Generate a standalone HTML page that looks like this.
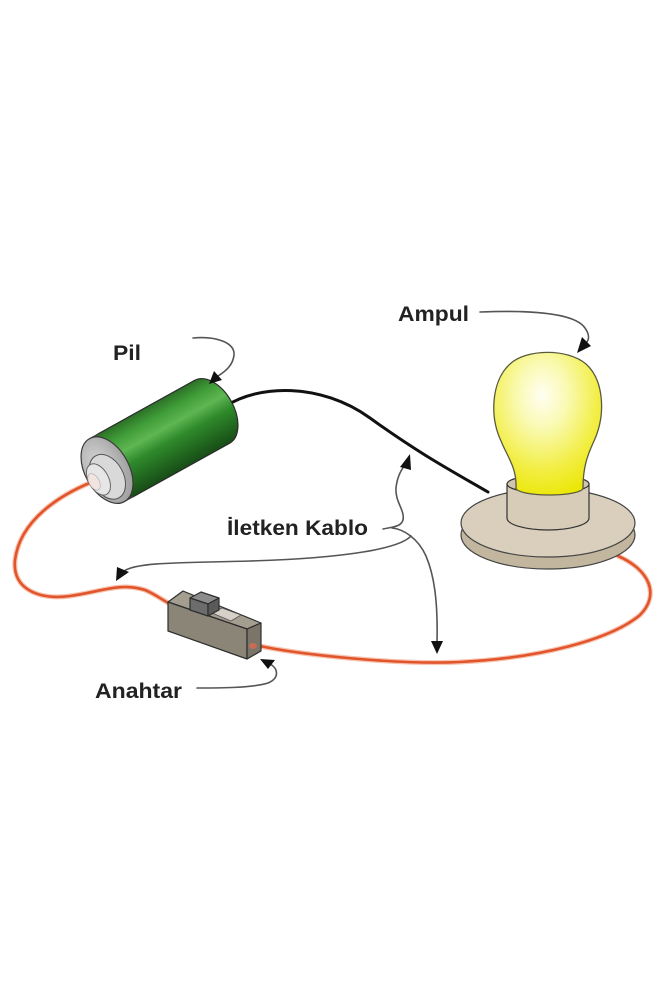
<!DOCTYPE html>
<html><head><meta charset="utf-8">
<style>
html,body{margin:0;padding:0;background:#fff;}
svg{display:block;}
text{font-family:"Liberation Sans",Arial,sans-serif;font-weight:bold;fill:#222;font-size:21px;}
</style></head>
<body>
<svg width="666" height="999" viewBox="0 0 666 999" xmlns="http://www.w3.org/2000/svg">
<defs>
  <linearGradient id="green" x1="0" y1="0" x2="0" y2="1">
    <stop offset="0" stop-color="#2c7027"/>
    <stop offset="0.18" stop-color="#3f9c37"/>
    <stop offset="0.38" stop-color="#5fb652"/>
    <stop offset="0.58" stop-color="#2f8a2b"/>
    <stop offset="0.85" stop-color="#1f621d"/>
    <stop offset="1" stop-color="#184c18"/>
  </linearGradient>
  <linearGradient id="metal" x1="0" y1="0" x2="0" y2="1">
    <stop offset="0" stop-color="#e0e0e0"/>
    <stop offset="0.5" stop-color="#b8b8b8"/>
    <stop offset="1" stop-color="#858585"/>
  </linearGradient>
  <radialGradient id="face" cx="0.4" cy="0.4" r="0.7">
    <stop offset="0" stop-color="#d8d8d8"/>
    <stop offset="1" stop-color="#9a9a9a"/>
  </radialGradient>
  <radialGradient id="bulb" cx="0.45" cy="0.3" r="0.75">
    <stop offset="0" stop-color="#fffef2"/>
    <stop offset="0.3" stop-color="#fafab5"/>
    <stop offset="0.7" stop-color="#f2ee44"/>
    <stop offset="1" stop-color="#ebe600"/>
  </radialGradient>
</defs>

<!-- red wires (glow + core) -->
<g fill="none" stroke-linecap="round">
  <path d="M92,482 C60,495 20,520 15,560 C12,590 40,600 70,596 C100,592 120,582 145,590 C155,594 162,600 172,605" stroke="#f6c3ae" stroke-width="5"/>
  <path d="M92,482 C60,495 20,520 15,560 C12,590 40,600 70,596 C100,592 120,582 145,590 C155,594 162,600 172,605" stroke="#e2552c" stroke-width="2.6"/>
  <path d="M255,645 C300,655 400,665 460,662 C540,658 610,640 640,615 C660,595 650,570 618,556" stroke="#f6c3ae" stroke-width="5"/>
  <path d="M255,645 C300,655 400,665 460,662 C540,658 610,640 640,615 C660,595 650,570 618,556" stroke="#e2552c" stroke-width="2.6"/>
</g>

<!-- black wire -->
<path d="M226,406 C258,385 320,382 370,418 S 450,470 488,492" fill="none" stroke="#111" stroke-width="3" stroke-linecap="round"/>

<!-- battery -->
<g transform="translate(159.5,441) rotate(-29)" stroke-linejoin="round">
  <path d="M-50,-36 L60,-36 A22,36 0 0 1 60,36 L-50,36 A22,36 0 0 1 -50,-36 Z" fill="url(#green)" stroke="#2b2b2b" stroke-width="1.2"/>
  <path d="M-60,-36 L-50,-36 A22,36 0 0 0 -50,36 L-60,36 Z" fill="url(#metal)" stroke="#444" stroke-width="1"/>
  <ellipse cx="-60" cy="0" rx="22" ry="36" fill="url(#face)" stroke="#3a3a3a" stroke-width="1.2"/>
  <ellipse cx="-63" cy="6" rx="16" ry="24" fill="#d9d9d9" stroke="#555" stroke-width="1"/>
  <ellipse cx="-72" cy="4" rx="10" ry="17" fill="#e6e6e6" stroke="#666" stroke-width="1"/>
  <ellipse cx="-77" cy="4" rx="5" ry="9" fill="#f4e4df" stroke="#aaa" stroke-width="0.6"/>
</g>

<!-- switch -->
<g stroke="#2e2e2e" stroke-width="1.2" stroke-linejoin="round">
  <polygon points="168,602 183,591 261,623 247,629" fill="#a39e8f"/>
  <polygon points="168,602 247,629 247,659 168,631" fill="#8a8576"/>
  <polygon points="247,629 261,623 261,651 247,659" fill="#7a7568"/>
  <polygon points="212,613 222,608 241,615 231,621" fill="#d6d0c8" stroke="#555" stroke-width="0.8"/>
  <polygon points="190,598 201,592 219,598 208,604" fill="#8c8c8c"/>
  <polygon points="190,598 208,604 208,616 190,610" fill="#6c6c6c"/>
  <polygon points="208,604 219,598 219,610 208,616" fill="#5a5a5a"/>
</g>
<ellipse cx="253" cy="646" rx="4" ry="3" fill="#e66a48" opacity="0.7"/>

<!-- bulb base disc -->
<ellipse cx="548" cy="535" rx="87" ry="34" fill="#c2b69f" stroke="#444" stroke-width="1.2"/>
<ellipse cx="548" cy="523" rx="87" ry="34" fill="#d9cfbc" stroke="#444" stroke-width="1.2"/>
<!-- collar -->
<path d="M507,484 L507,518 A41,12 0 0 0 589,518 L589,484 Z" fill="#d6ccb8" stroke="#333" stroke-width="1.2"/>
<ellipse cx="548" cy="484" rx="41" ry="9" fill="#cfc5b0" stroke="#333" stroke-width="1.2"/>
<!-- glass -->
<path d="M516,488 C517,468 507,456 501,441 C489,415 492,380 510,364 C526,349 567,348 586,364 C604,380 606,415 594,441 C587,456 583,468 583,488 A33.5,7 0 0 1 516,488 Z" fill="url(#bulb)" stroke="#5a5a40" stroke-width="1.3"/>

<!-- callout arrows -->
<g fill="none" stroke="#555" stroke-width="1.6" stroke-linecap="round">
  <path d="M193,338 C215,336 235,342 234,355 C233,365 226,371 218,376"/>
  <path d="M480,312 C530,310 575,313 585,328 C590,335 589,340 586,343"/>
  <path d="M383,529 C392,527 401,527 403,520 C405,510 395,502 396,488 C397,478 401,470 405,465"/>
  <path d="M392,528 C403,529 418,538 426,556 C434,575 438,600 437,642"/>
  <path d="M411,536 C400,548 350,558 250,561 C180,563 138,562 124,571"/>
  <path d="M197,688 C220,688 252,688 268,683 C280,678 278,668 270,664"/>
</g>
<g fill="#111">
  <polygon points="209,384 222,380 214,371"/>
  <polygon points="577,353 591,346 582,337"/>
  <polygon points="410,454 400,467 411,470"/>
  <polygon points="116,581 117,567 129,572"/>
  <polygon points="437,654 431,641 443,641"/>
  <polygon points="260,659 275,660 268,669"/>
</g>

<!-- labels -->
<text x="113" y="360" textLength="28" lengthAdjust="spacingAndGlyphs">Pil</text>
<text x="398" y="321" textLength="71" lengthAdjust="spacingAndGlyphs">Ampul</text>
<text x="227" y="535" textLength="141" lengthAdjust="spacingAndGlyphs">İletken Kablo</text>
<text x="95" y="698" textLength="87" lengthAdjust="spacingAndGlyphs">Anahtar</text>
</svg>
</body></html>
